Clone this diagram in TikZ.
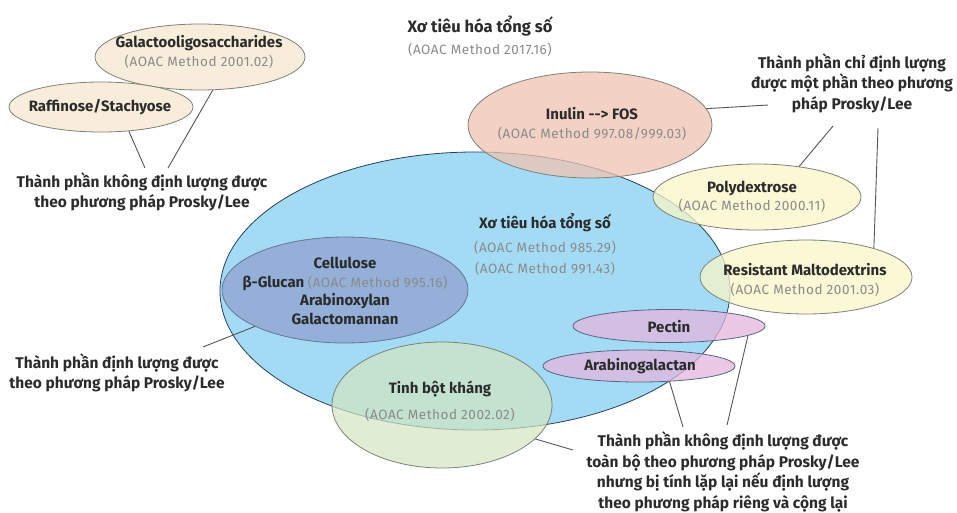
\documentclass[tikz,border=0pt]{standalone}
\usepackage{fontspec}
\setmainfont{Fira Sans}
\newfontfamily\codefont[LetterSpace=4]{Fira Sans}
\usetikzlibrary{shapes.geometric}

\definecolor{ink}{HTML}{2B2B2B}
\definecolor{codegray}{HTML}{8A8A8A}
\definecolor{fibreblue}{HTML}{A3DBF5}
\definecolor{navyline}{HTML}{24405F}
\definecolor{beige}{HTML}{F5E7CF}
\definecolor{salmon}{HTML}{EFC3B2}
\definecolor{cream}{HTML}{FAF5C8}
\definecolor{pinkviolet}{HTML}{E3B6DD}
\definecolor{lavblue}{HTML}{92A8D4}
\definecolor{sage}{HTML}{D3E5C1}
\definecolor{rimgray}{HTML}{7D8178}

\newcommand{\aoac}[1]{{\codefont\mdseries\fontsize{13.5}{18.5}\selectfont\color{codegray}#1}}

\begin{document}
\begin{tikzpicture}[x=1pt,y=-1pt,
    blob/.style={ellipse,draw=#1,inner sep=0pt,line width=0.8pt,fill opacity=0.75},
    lbl/.style={align=center,text=ink,inner sep=0pt,font=\fontsize{15}{18.5}\selectfont\bfseries},
    note/.style={align=center,text=ink,inner sep=0pt,font=\fontsize{15.5}{20.5}\selectfont\bfseries},
    link/.style={draw=ink!80,line width=0.9pt}]
    \useasboundingbox (0,0) rectangle (957,512);

    \node[blob=navyline,fill=fibreblue,fill opacity=1,minimum width=510pt,minimum height=278pt] (total) at (475,291) {};
    \node[blob=rimgray,fill=beige,minimum width=210pt,minimum height=66pt] (gos) at (200,57) {};
    \node[blob=rimgray,fill=beige,minimum width=184pt,minimum height=50pt] (raff) at (101,107) {};
    \node[blob=lavblue!70!black,fill=lavblue,fill opacity=0.85,minimum width=246pt,minimum height=106pt] (cellu) at (345,290) {};
    \node[blob=rimgray,fill=salmon,minimum width=244pt,minimum height=106pt] (inulin) at (590,125) {};
    \node[blob=rimgray,fill=cream,minimum width=208pt,minimum height=66pt] (poly) at (757,197) {};
    \node[blob=rimgray,fill=cream,minimum width=212pt,minimum height=74pt] (resmd) at (806,277) {};
    \node[blob=lavblue!60!black,fill=pinkviolet,minimum width=192pt,minimum height=33pt] (pectin) at (669,326) {};
    \node[blob=lavblue!60!black,fill=pinkviolet,minimum width=192pt,minimum height=32pt] (arabgal) at (639,366) {};
    \node[blob=rimgray,fill=sage,fill opacity=0.7,minimum width=220pt,minimum height=126pt] (starch) at (442,405) {};

    % labels
    \node[lbl] (title) at (480,36) {\fontsize{16.5}{18.5}\selectfont Xơ tiêu hóa tổng số\\[4pt]\aoac{(AOAC Method 2017.16)}};
    \node[lbl] (totaltxt) at (545,244) {Xơ tiêu hóa tổng số\\[6pt]\aoac{(AOAC Method 985.29)}\\[2pt]\aoac{(AOAC Method 991.43)}};
    \node[lbl] (gostxt) at (199,52) {Galactooligosaccharides\\\aoac{(AOAC Method 2001.02)}};
    \node[lbl] (rafftxt) at (100,107) {Raffinose/Stachyose};
    \node[lbl] (inutxt) at (592,124) {Inulin -{}->  FOS\\\aoac{(AOAC Method 997.08/999.03)}};
    \node[lbl] (polytxt) at (752,197) {Polydextrose\\\aoac{(AOAC Method 2000.11)}};
    \node[lbl] (resmdtxt) at (805,280) {Resistant Maltodextrins\\\aoac{(AOAC Method 2001.03)}};
    \node[lbl] (pectxt) at (669,327) {Pectin};
    \node[lbl] (arabtxt) at (640,366) {Arabinogalactan};
    \node[lbl] (cellutxt) at (345,291) {Cellulose\\β-Glucan \aoac{(AOAC Method 995.16)}\\Arabinoxylan\\Galactomannan};
    \node[lbl] (starchtxt) at (440,401) {Tinh bột kháng\\[7pt]\aoac{(AOAC Method 2002.02)}};

    \node[note] (leftnote) at (142,192) {Thành phần không định lượng được\\theo phương pháp Prosky/Lee};
    \node[note] (celnote) at (117,373) {Thành phần định lượng được\\theo phương pháp Prosky/Lee};
    \node[note] (rightnote) at (852,83) {Thành phần chỉ định lượng\\được một phần theo phương\\pháp Prosky/Lee};
    \node[note] (botnote) at (723,472) {Thành phần không định lượng được\\toàn bộ theo phương pháp Prosky/Lee\\nhưng bị tính lặp lại nếu định lượng\\theo phương pháp riêng và cộng lại};

    % connectors
    \coordinate (ln1) at (145,168);
    \coordinate (ln2) at (168,168);
    \coordinate (cn1) at (203,347);
    \coordinate (rn1) at (768,105);
    \coordinate (rn2) at (833,126);
    \coordinate (rn3) at (878,128);
    \coordinate (bn1) at (683,427);
    \coordinate (bn2) at (727,425);
    \coordinate (bn3) at (573,450);
    \draw[link] (raff.-41) -- (ln1);
    \draw[link] (gos.-69) -- (ln2);
    \draw[link] (cellu.-158) -- (cn1);
    \draw[link] (inulin.8) -- (rn1);
    \draw[link] (poly.36) -- (rn2);
    \draw[link] (resmd.23) -- (rn3);
    \draw[link] (arabgal.-27) -- (bn1);
    \draw[link] (pectin.-7) -- (bn2);
    \draw[link] (starch.-20) -- (bn3);
\end{tikzpicture}
\end{document}
